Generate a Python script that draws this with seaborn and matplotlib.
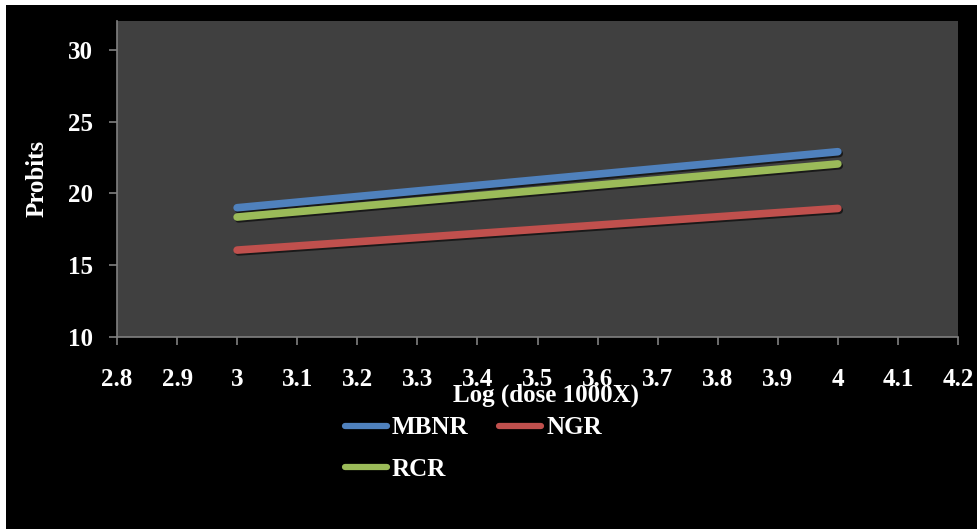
import numpy as np
import pandas as pd
import matplotlib
matplotlib.use("Agg")
import matplotlib.pyplot as plt
import matplotlib.patheffects as pe
from matplotlib.lines import Line2D
import seaborn as sns

# data
log_dose = [3.0, 4.0]
mbnr = [19.0, 22.9]
ngr = [16.05, 18.95]
rcr = [18.35, 22.05]
series = ["MBNR", "NGR", "RCR"]
colors = ["#4F81BD", "#C0504D", "#9BBB59"]

df = pd.DataFrame({
    "log_dose": log_dose * 3,
    "probit": mbnr + ngr + rcr,
    "series": [s for s in series for _ in log_dose],
})

sns.set_style("dark")
plt.rcParams["font.family"] = ["Liberation Serif", "DejaVu Serif"]
plt.rcParams["font.weight"] = "bold"

fig = plt.figure(figsize=(9.77, 5.29), dpi=100)
fig.patch.set_facecolor("white")
# black chart area (thin white strip on top/left like the source)
fig.patches.append(plt.Rectangle((6 / 977, 0), 1, 1 - 5 / 529,
                                 transform=fig.transFigure,
                                 facecolor="black", edgecolor="none", zorder=-1))

ax = fig.add_axes([117 / 977, 1 - 337 / 529, (958 - 117) / 977, (337 - 21) / 529])
ax.set_facecolor("#404040")

sns.lineplot(data=df, x="log_dose", y="probit", hue="series",
             palette=dict(zip(series, colors)), linewidth=5.5,
             legend=False, ax=ax)
for ln in ax.get_lines():
    ln.set_solid_capstyle("round")
    ln.set_path_effects([pe.SimpleLineShadow(offset=(1.0, -1.3), shadow_color="black", alpha=0.6),
                         pe.Normal()])

ax.set_xlim(2.8, 4.2)
ax.set_ylim(10, 32)
ax.set_xticks(np.round(np.arange(2.8, 4.21, 0.1), 1))
ax.set_xticklabels(["2.8", "2.9", "3", "3.1", "3.2", "3.3", "3.4", "3.5",
                    "3.6", "3.7", "3.8", "3.9", "4", "4.1", "4.2"])
ax.set_yticks([10, 15, 20, 25, 30])
ax.grid(False)

for side in ["top", "right"]:
    ax.spines[side].set_visible(False)
for side in ["left", "bottom"]:
    ax.spines[side].set_visible(True)
    ax.spines[side].set_color("#808080")
    ax.spines[side].set_linewidth(1.2)

ax.tick_params(axis="x", colors="#808080", length=6, width=1.2, direction="out",
               bottom=True, labelcolor="white", labelsize=18, pad=16)
ax.tick_params(axis="y", colors="#808080", length=6, width=1.2, direction="out",
               left=True, labelcolor="white", labelsize=18, pad=11)
for lbl in ax.get_xticklabels() + ax.get_yticklabels():
    lbl.set_fontweight("bold")

ax.set_xlabel("")
ax.set_ylabel("")
fig.text(546 / 977, 1 - 395 / 529, "Log (dose 1000X)", color="white",
         fontsize=18, fontweight="bold", ha="center", va="center")
fig.text(37 / 977, 1 - 178 / 529, "Probits", color="white", rotation=90,
         fontsize=18, fontweight="bold", ha="center", va="center")

# Excel fills legend rows first: MBNR, NGR / RCR
order = [0, 2, 1]
handles = [Line2D([], [], color=colors[i], linewidth=4.5, solid_capstyle="round") for i in order]
leg = fig.legend(handles, [series[i] for i in order], loc="upper left", ncol=2,
                 frameon=False, bbox_to_anchor=(322 / 977, 1 - 394 / 529),
                 prop={"size": 18, "weight": "bold"},
                 handlelength=1.7, handletextpad=0.2, columnspacing=1.2,
                 labelspacing=0.72)
for t in leg.get_texts():
    t.set_color("white")

fig.savefig("out.png", dpi=100, facecolor=fig.get_facecolor())
